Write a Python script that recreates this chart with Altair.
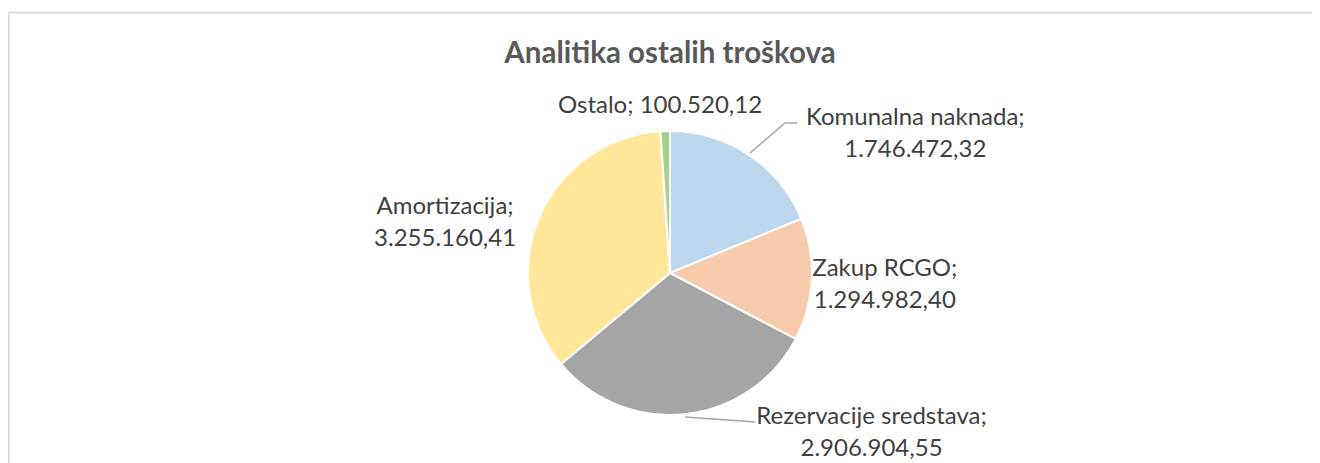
import altair as alt
import pandas as pd

# ---- data ----
categories = ["Komunalna naknada", "Zakup RCGO", "Rezervacije sredstava", "Amortizacija", "Ostalo"]
values = [1746472.32, 1294982.40, 2906904.55, 3255160.41, 100520.12]
colors = ["#BDD7EE", "#F8CBAD", "#A5A5A5", "#FFE699", "#A9D18E"]
title_text = "Analitika ostalih troškova"


def hr_fmt(v):
    s = f"{v:,.2f}"
    return s.replace(",", "X").replace(".", ",").replace("X", ".")


# label layout: (line break?, dx, dy)
label_layout = {
    "Komunalna naknada": (True, 148, -10),
    "Zakup RCGO": (True, 40, -12),
    "Rezervacije sredstava": (True, 183, -30),
    "Amortizacija": (True, -64, 3),
    "Ostalo": (False, -4, 8),
}

labels = []
for c, v in zip(categories, values):
    sep = ";\n" if label_layout[c][0] else "; "
    labels.append(f"{c}{sep}{hr_fmt(v)}")

df = pd.DataFrame({
    "idx": list(range(len(categories))),
    "cat": categories,
    "value": values,
    "label": labels,
})

base = alt.Chart(df)

pie = base.mark_arc(outerRadius=142, stroke="white", strokeWidth=2).encode(
    theta=alt.Theta("value:Q", stack=True),
    color=alt.Color("cat:N", scale=alt.Scale(domain=categories, range=colors), legend=None),
    order=alt.Order("idx:Q"),
)

text_layers = []
for c in categories:
    _, dx, dy = label_layout[c]
    t = base.mark_text(
        font="Lato", fontSize=24, color="#404040", align="center", baseline="middle",
        lineBreak="\n", lineHeight=32, dx=dx, dy=dy,
    ).encode(
        theta=alt.Theta("value:Q", stack=True),
        order=alt.Order("idx:Q"),
        radius=alt.value(175),
        text=alt.condition(alt.datum.cat == c, alt.Text("label:N"), alt.value("")),
    )
    text_layers.append(t)

one = alt.Chart(pd.DataFrame({"a": [0]}))

title = one.mark_text(
    font="Lato", fontSize=29.5, fontWeight="bold", color="#595959",
    align="center", baseline="alphabetic",
).encode(x=alt.value(642), y=alt.value(-20), text=alt.value(title_text))

lead_style = dict(color="#A6A6A6", strokeWidth=1.5)
leaders = [
    one.mark_rule(**lead_style).encode(x=alt.value(722), y=alt.value(70), x2=alt.value(757), y2=alt.value(40)),
    one.mark_rule(**lead_style).encode(x=alt.value(757), y=alt.value(40), x2=alt.value(769), y2=alt.value(40)),
    one.mark_rule(**lead_style).encode(x=alt.value(657), y=alt.value(334), x2=alt.value(727), y2=alt.value(339)),
]
border_style = dict(color="#D9D9D9", strokeWidth=2)
borders = [
    one.mark_rule(**border_style).encode(x=alt.value(-19.5), x2=alt.value(1300), y=alt.value(-70.5)),
    one.mark_rule(**border_style).encode(x=alt.value(-19.5), y=alt.value(-70.5), y2=alt.value(400)),
]

chart = alt.layer(*borders, pie, *leaders, *text_layers, title).properties(
    width=1284,
    height=380,
    padding={"left": 20, "top": 75, "right": 0, "bottom": 0},
    autosize=alt.AutoSizeParams(type="none"),
).configure_view(stroke=None)

chart.save("out.html", embed_options={"renderer": "svg", "actions": False})
